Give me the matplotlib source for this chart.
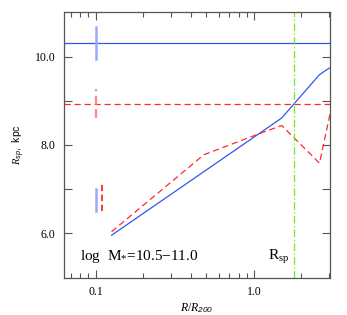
import numpy as np
import matplotlib
matplotlib.use('Agg')
from matplotlib import pyplot as plt
from matplotlib.ticker import FixedLocator, FuncFormatter, NullFormatter

# ------------------------------------------------------------
# data
r_blue = [0.126, 1.5, 2.6, 3.0]
rsp_blue = [5.96, 8.61, 9.59, 9.74]

r_red = [0.126, 0.483, 1.0, 1.5, 2.6, 3.03]
rsp_red = [6.04, 7.78, 8.21, 8.44, 7.59, 8.70]

blue_level, blue_err = 10.30, 0.36
red_level, red_err = 8.93, 0.33
r_split = 1.8

# representative error bars near the bottom-left
bar_blue_x, bar_blue_y = 0.1, (6.51, 7.0)
bar_red_x, bar_red_y = 0.11, (6.51, 7.13)

label_bin = r'log  M$_{*}$=10.5$-$11.0'

plt.rcParams['font.family'] = ['Liberation Serif', 'DejaVu Serif']
plt.rcParams['mathtext.fontset'] = 'custom'
plt.rcParams['mathtext.rm'] = 'Liberation Serif'
plt.rcParams['mathtext.it'] = 'Liberation Serif:italic'
plt.rcParams['mathtext.bf'] = 'Liberation Sans:italic'

fig = plt.figure(figsize=(3.47, 3.15), dpi=100)
ax = fig.add_axes([0.1844, 0.1184, 0.7666, 0.8426])

blue = '#3355ee'
red = '#ff2a2a'
blue_lt = '#9aa8ff'
red_lt = '#ff8c8c'

ax.axhline(blue_level, color=blue, lw=0.9)
ax.axhline(red_level, color=red, lw=0.9, ls=(0, (5, 3)))
ax.plot([0.1, 0.1], [blue_level - blue_err, blue_level + blue_err],
        color=blue_lt, lw=1.8)
ax.plot([0.1, 0.1], [red_level - red_err, red_level + red_err],
        color=red_lt, lw=1.6, ls=(0, (4, 2)))

ax.plot(r_blue, rsp_blue, color=blue, lw=0.9)
ax.plot(r_red, rsp_red, color=red, lw=0.9, ls=(0, (5, 3)))

ax.plot([bar_blue_x] * 2, bar_blue_y, color=blue_lt, lw=1.8)
ax.plot([bar_red_x] * 2, bar_red_y, color=red, lw=1.3, ls=(0, (3.5, 2)))

ax.axvline(r_split, color='#66ee22', lw=0.9, ls=(0, (6, 2, 1, 2)))

ax.text(0.080, 5.49, label_bin, fontsize=11, va='center')
ax.text(1.22, 5.47, r'R$_{\rm sp}$', fontsize=11, va='center')

ax.set_xscale('log')
ax.set_xlim(0.063, 3.03)
ax.set_ylim(5.0, 11.0)

ax.xaxis.set_major_locator(FixedLocator([0.1, 1.0]))
ax.xaxis.set_major_formatter(FuncFormatter(lambda v, p: '%.1f' % v))
minors = [0.07, 0.08, 0.09] + [0.1 * k for k in range(2, 10)] + [2.0, 3.0]
ax.xaxis.set_minor_locator(FixedLocator(minors))
ax.xaxis.set_minor_formatter(NullFormatter())

ax.yaxis.set_major_locator(FixedLocator([6, 7, 8, 9, 10]))
ax.yaxis.set_major_formatter(FuncFormatter(
    lambda v, p: '%.1f' % v if int(round(v)) % 2 == 0 else ''))

ax.tick_params(which='both', direction='in', top=True, right=True,
               labelsize=8.5, color='#555555', pad=6)
ax.tick_params(which='major', length=6, width=0.8)
ax.tick_params(which='minor', length=3.5, width=0.8)
for s in ax.spines.values():
    s.set_color('#555555')
    s.set_linewidth(0.9)

ax.set_xlabel(r'$R/R_{\mathbf{200}}$', fontsize=8.5, labelpad=2)
ax.set_ylabel(r'$R_{\mathbf{sp}}$,  kpc', fontsize=7.5, labelpad=6,
              family=['Liberation Sans', 'DejaVu Sans'])

fig.savefig('out.png', dpi=100)
